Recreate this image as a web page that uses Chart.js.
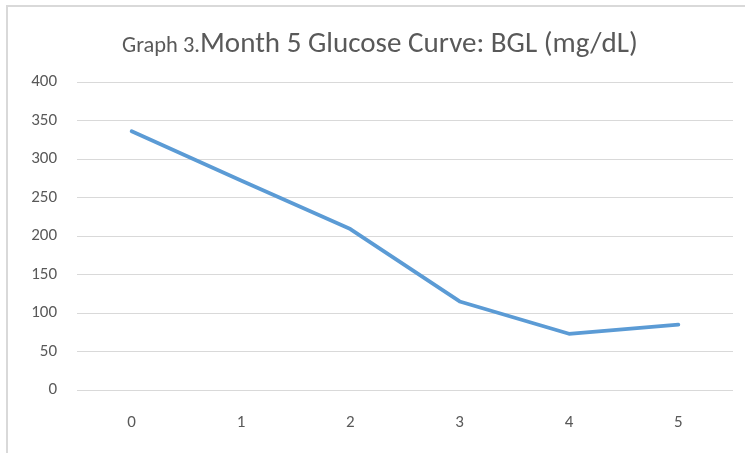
<!DOCTYPE html>
<html>
<head>
<meta charset="utf-8">
<script src="https://cdn.jsdelivr.net/npm/chart.js@4"></script>
<style>
  html, body { margin: 0; padding: 0; background: #fff; }
  #wrap { position: relative; width: 745px; height: 453px; overflow: hidden; }
  #frame { position: absolute; left: 6px; top: 5px; width: 800px; height: 500px;
           border: 2px solid #d9d9d9; box-sizing: border-box; }
  canvas { position: absolute; left: 0; top: 0; }
</style>
</head>
<body>
<div id="wrap">
  <div id="frame"></div>
  <canvas id="glucose_chart" width="745" height="453"></canvas>
</div>
<script>
// chart data
const hours = ['0', '1', '2', '3', '4', '5'];
const bglValues = [336, 272, 209, 115, 73, 85];
const yTicks = [0, 50, 100, 150, 200, 250, 300, 350, 400];

const titleSmall = 'Graph 3.';
const titleBig = 'Month 5 Glucose Curve: BGL (mg/dL)';
const FONT = 'Carlito, Calibri, "Open Sans", sans-serif';

/* =========================
   Title with two font sizes
========================= */
const mixedTitle = {
    id: 'mixedTitle',
    afterDraw(chart) {
        const ctx = chart.ctx;
        ctx.save();
        ctx.fillStyle = '#595959';
        ctx.textBaseline = 'alphabetic';
        // size each part to the widths seen in the reference
        ctx.font = '20px ' + FONT;
        const small = 20 * 78 / ctx.measureText(titleSmall).width;
        const big = 20 * 438 / ctx.measureText(titleBig).width;
        ctx.font = small + 'px ' + FONT;
        ctx.fillText(titleSmall, 122, 52);
        ctx.font = big + 'px ' + FONT;
        ctx.fillText(titleBig, 200, 52);
        ctx.restore();
    }
};

const ctx = document.getElementById('glucose_chart').getContext('2d');

new Chart(ctx, {
    type: 'line',
    data: {
        labels: hours,
        datasets: [{
            label: 'BGL',
            data: bglValues,
            borderColor: '#5B9BD5',
            backgroundColor: '#5B9BD5',
            borderWidth: 3.8,
            pointRadius: 0,
            tension: 0,
            fill: false,
            borderCapStyle: 'round',
            borderJoinStyle: 'round'
        }]
    },
    options: {
        responsive: false,
        animation: false,
        layout: {
            padding: { top: 82, right: 12, left: 0, bottom: 0 }
        },
        plugins: {
            legend: { display: false },
            title: { display: false },
            tooltip: { enabled: false }
        },
        scales: {
            x: {
                offset: true,
                grid: { display: false, drawTicks: false },
                border: { display: false },
                ticks: {
                    color: '#595959',
                    font: { family: FONT, size: 17 },
                    padding: 23
                },
                afterFit(scale) { scale.height = 63; }
            },
            y: {
                min: 0,
                max: 400,
                afterBuildTicks(scale) {
                    scale.ticks = yTicks.map(v => ({ value: v }));
                },
                grid: { color: '#d9d9d9', lineWidth: 1, drawTicks: false },
                border: { display: false },
                ticks: {
                    color: '#595959',
                    font: { family: FONT, size: 17 },
                    padding: 20
                },
                afterFit(scale) { scale.width = 77; }
            }
        }
    },
    plugins: [mixedTitle]
});
</script>
</body>
</html>
